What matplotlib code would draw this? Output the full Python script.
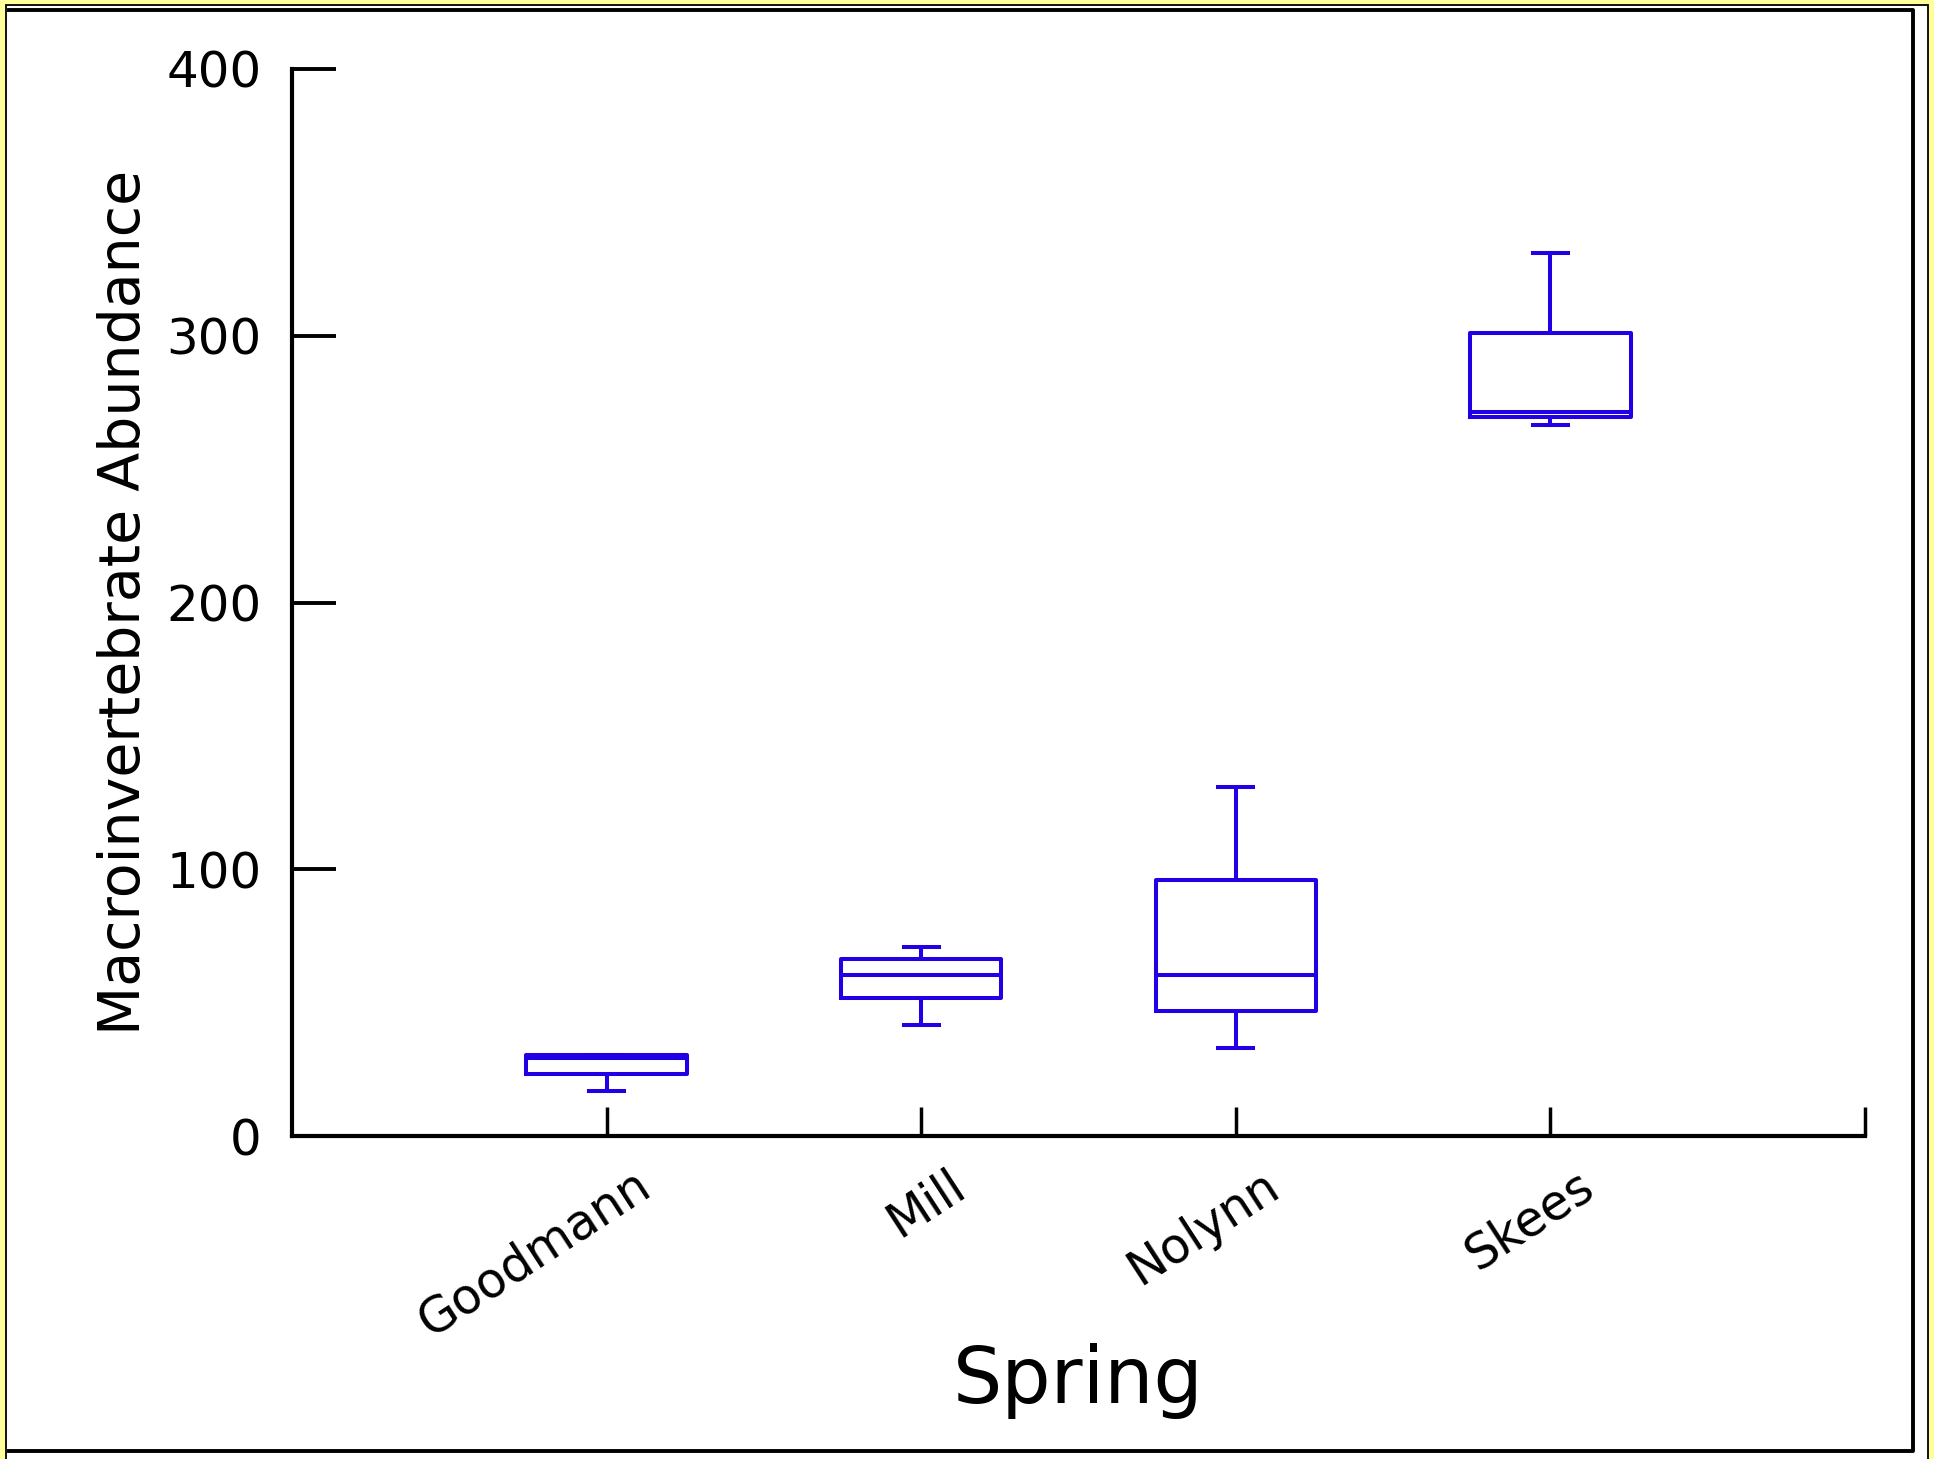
import matplotlib
matplotlib.use("Agg")
import matplotlib.pyplot as plt
import matplotlib.transforms as mtransforms
from matplotlib import font_manager
from matplotlib.patches import Rectangle
from matplotlib.lines import Line2D

# box stats
springs = ["Goodmann", "Mill", "Nolynn", "Skees"]
whislo = [16.9, 41.6, 32.9, 266.7]
q1 = [23.1, 51.6, 46.9, 269.5]
med = [29.2, 60.2, 60.2, 271.5]
q3 = [30.5, 66.2, 96.1, 301.2]
whishi = [30.5, 70.9, 130.7, 330.9]
yticks = [0, 100, 200, 300, 400]

W, H = 1934, 1459
blue = "#2200e6"

fig = plt.figure(figsize=(W / 100, H / 100), dpi=100)
fig.patch.set_facecolor("#ffff99")

# page frame: thin outer border + shadow-like thick border
fig.add_artist(Rectangle((5.5 / W, -0.02), (1928 - 5.5) / W, (H - 6 + 30) / H,
                         transform=fig.transFigure, facecolor="white",
                         edgecolor="black", lw=1.3, zorder=0))
fx = [9 / W, 1913 / W, 1913 / W, 9 / W]
fy = [(H - 9.5) / H, (H - 9.5) / H, (H - 1450.5) / H, (H - 1450.5) / H]
fig.add_artist(Line2D(fx, fy, transform=fig.transFigure, color="black", lw=2.8,
                      solid_capstyle="projecting", zorder=0.5))

ax = fig.add_axes([292 / W, 323 / H, (1865 - 292) / W, (1390 - 323) / H])
ax.set_facecolor("none")

stats = []
for i in range(len(springs)):
    stats.append({"label": springs[i], "whislo": whislo[i], "q1": q1[i],
                  "med": med[i], "q3": q3[i], "whishi": whishi[i], "fliers": []})

lw = 2.9
ax.bxp(stats, positions=[1, 2, 3, 4], widths=0.51, capwidths=0.11,
       showfliers=False,
       boxprops=dict(color=blue, lw=lw),
       medianprops=dict(color=blue, lw=lw),
       whiskerprops=dict(color=blue, lw=lw),
       capprops=dict(color=blue, lw=lw))

ax.set_xlim(0, 5)
ax.set_ylim(0, 400)
ax.spines["top"].set_visible(False)
ax.spines["right"].set_visible(False)
ax.spines["left"].set_linewidth(3)
ax.spines["bottom"].set_linewidth(3)

ax.set_yticks(yticks)
ax.set_yticklabels([str(v) for v in yticks], fontsize=36)
ax.tick_params(axis="y", direction="in", length=32, width=2.8, pad=22)

ax.set_xticks([1, 2, 3, 4, 5])
ax.set_xticklabels(springs + [""], fontsize=35, rotation=33, ha="right",
                   va="top", rotation_mode="anchor")
ax.tick_params(axis="x", direction="in", length=21, width=2.5, pad=18)
offset = mtransforms.ScaledTranslation(0.26, 0, fig.dpi_scale_trans)
for lab in ax.get_xticklabels():
    lab.set_transform(lab.get_transform() + offset)

# condensed font for the y label if one is installed
names = {f.name for f in font_manager.fontManager.ttflist}
yfam, ysize = "DejaVu Sans", 41
if "Liberation Sans Narrow" in names:
    yfam, ysize = "Liberation Sans Narrow", 56

ax.set_ylabel("Macroinvertebrate Abundance", fontsize=ysize, family=yfam)
ax.yaxis.label.set_va("baseline")
ax.yaxis.set_label_coords(-0.0966, 0.5)

ax.set_xlabel("Spring", fontsize=56)
ax.xaxis.label.set_va("baseline")
ax.xaxis.set_label_coords(0.5, -0.250)

fig.savefig("out.png", dpi=100, facecolor=fig.get_facecolor())
